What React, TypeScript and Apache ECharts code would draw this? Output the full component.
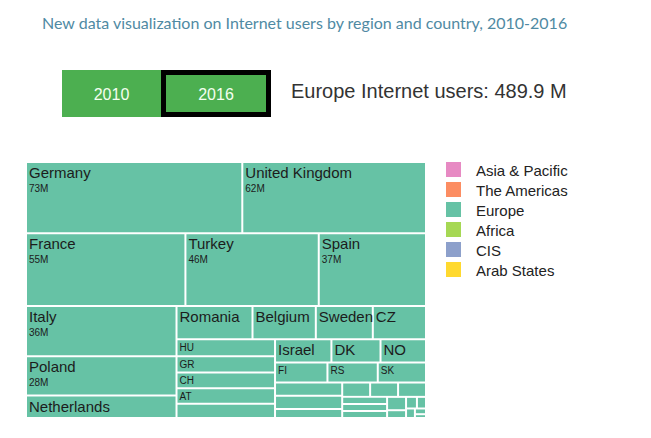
import React, { useEffect, useRef } from 'react';
import * as echarts from 'echarts';

// ---------- data ----------
const chartTitle = 'New data visualization on Internet users by region and country, 2010-2016';
const years = ['2010', '2016'];
const selectedYear = '2016';
const selectedRegion = 'Europe';
const selectedRegionTotal = 489.9; // million users, 2016

const regions = ['Asia & Pacific', 'The Americas', 'Europe', 'Africa', 'CIS', 'Arab States'];
const regionColors = ['#e78ac3', '#fc8d62', '#66c2a5', '#a6d854', '#8da0cb', '#ffd92f'];

const countries = [
  'Germany', 'United Kingdom', 'France', 'Turkey', 'Spain',
  'Italy', 'Poland', 'Netherlands',
  'Romania', 'Belgium', 'Sweden', 'CZ',
  'HU', 'GR', 'CH', 'AT', 'PT',
  'Israel', 'DK', 'NO',
  'FI', 'RS', 'SK',
  'BG', 'IE', 'HR',
  'LT', 'BA', 'AL', 'SI', 'LV', 'MK', 'EE', 'CY', 'LU', 'MT', 'IS', 'ME', 'AD',
];
// Internet users, millions (2016)
const users = [
  73, 62, 55, 46, 37,
  36, 28, 16,
  12, 10, 9, 8.4,
  8, 7.5, 7.4, 7.3, 6.6,
  6.2, 5.4, 5,
  5, 4.8, 4.6,
  4.2, 4.2, 2.9,
  1.9, 1.9, 1.9, 1.5, 1.5, 1.5, 1.2, 0.7, 0.6, 0.5, 0.4, 0.3, 0.2,
];
const unlabeledCountries = ['PT'];

// ---------- treemap arrangement (index ranges into the arrays above) ----------
type Arrange = 'row' | 'column' | 'auto';
type LabelMode = 'full' | 'name' | 'small' | 'none';
type Leaf = { from: number; to: number; arrange: Arrange; label: LabelMode };
type Split = { dir: 'row' | 'column'; parts: Spec[] };
type Spec = Leaf | Split;

const leaf = (from: number, to: number, arrange: Arrange, label: LabelMode): Leaf => ({ from, to, arrange, label });

const arrangement: Spec = {
  dir: 'column',
  parts: [
    leaf(0, 2, 'row', 'full'),
    leaf(2, 5, 'row', 'full'),
    {
      dir: 'row',
      parts: [
        leaf(5, 8, 'column', 'full'),
        {
          dir: 'column',
          parts: [
            leaf(8, 12, 'row', 'name'),
            {
              dir: 'row',
              parts: [
                leaf(12, 17, 'column', 'small'),
                {
                  dir: 'column',
                  parts: [
                    leaf(17, 20, 'row', 'name'),
                    leaf(20, 23, 'row', 'small'),
                    {
                      dir: 'row',
                      parts: [
                        leaf(23, 26, 'column', 'none'),
                        {
                          dir: 'column',
                          parts: [
                            leaf(26, 29, 'row', 'none'),
                            { dir: 'row', parts: [leaf(29, 32, 'column', 'none'), leaf(32, 39, 'auto', 'none')] },
                          ],
                        },
                      ],
                    },
                  ],
                },
              ],
            },
          ],
        },
      ],
    },
  ],
};

const MAP = { x: 26, y: 162, w: 400, h: 256 };
const FONT = 'Arial, "Liberation Sans", sans-serif';
const GREEN = '#4caf50';

function specSum(s: Spec): number {
  if ('parts' in s) return s.parts.reduce((a, p) => a + specSum(p), 0);
  return users.slice(s.from, s.to).reduce((a, v) => a + v, 0);
}

function formatterFor(mode: LabelMode) {
  return (p: any) => {
    if (mode === 'full') return p.value >= 20 ? `{n|${p.name}}\n{v|${Math.round(p.value)}M}` : `{n|${p.name}}`;
    if (mode === 'name') return `{n|${p.name}}`;
    if (mode === 'small') return `{s|${p.name}}`;
    return '';
  };
}

function makeSeries(s: Leaf, x: number, y: number, w: number, h: number) {
  const wide = w >= h;
  let ratio = 0.5 * (1 + Math.sqrt(5));
  if (s.arrange === 'row') ratio = wide ? 1e-6 : 1e6;
  if (s.arrange === 'column') ratio = wide ? 1e6 : 1e-6;
  const color = regionColors[regions.indexOf(selectedRegion)];
  const data = countries.slice(s.from, s.to).map((name, k) => ({
    name,
    value: users[s.from + k],
    ...(unlabeledCountries.includes(name) ? { label: { show: false } } : {}),
  }));
  return {
    type: 'treemap',
    left: x,
    top: y,
    width: w,
    height: h,
    squareRatio: ratio,
    roam: false,
    nodeClick: false,
    silent: true,
    breadcrumb: { show: false },
    upperLabel: { show: false },
    label: {
      show: s.label !== 'none',
      position: 'insideTopLeft',
      padding: [1, 2, 0, 2],
      overflow: 'none',
      formatter: formatterFor(s.label),
      rich: {
        n: { fontFamily: FONT, fontSize: 15, lineHeight: 17, color: '#1c1c1c' },
        v: { fontFamily: FONT, fontSize: 10, lineHeight: 15, color: '#1c1c1c' },
        s: { fontFamily: FONT, fontSize: 10, lineHeight: 12, color: '#1c1c1c' },
      },
    },
    levels: [
      { itemStyle: { borderWidth: 0, gapWidth: 0 } },
      { itemStyle: { color, borderColor: '#ffffff', borderWidth: 1, gapWidth: 0 } },
    ],
    data,
  };
}

function place(s: Spec, x: number, y: number, w: number, h: number, out: any[]) {
  if ('parts' in s) {
    const total = specSum(s);
    let off = 0;
    for (const p of s.parts) {
      const frac = specSum(p) / total;
      if (s.dir === 'column') {
        place(p, x, y + off, w, h * frac, out);
        off += h * frac;
      } else {
        place(p, x + off, y, w * frac, h, out);
        off += w * frac;
      }
    }
  } else {
    out.push(makeSeries(s, x, y, w, h));
  }
}

function buildOption() {
  const series: any[] = [];
  place(arrangement, MAP.x, MAP.y, MAP.w, MAP.h, series);

  const graphics: any[] = [];
  // year buttons
  let bx = 62;
  years.forEach((yr) => {
    const sel = yr === selectedYear;
    const w = sel ? 110 : 99;
    if (sel) {
      graphics.push({ type: 'rect', shape: { x: bx + 2.5, y: 72.5, width: w - 5, height: 42 }, style: { fill: GREEN, stroke: '#000', lineWidth: 5 } });
    } else {
      graphics.push({ type: 'rect', shape: { x: bx, y: 70, width: w, height: 47 }, style: { fill: GREEN } });
    }
    graphics.push({ type: 'text', x: bx + w / 2, y: 94, style: { text: yr, fill: '#f4fff0', font: `16px ${FONT}`, align: 'center', verticalAlign: 'middle' } });
    bx += w;
  });
  // headline
  graphics.push({
    type: 'text', x: 291, y: 91,
    style: { text: `${selectedRegion} Internet users: ${selectedRegionTotal} M`, fill: '#333333', font: `20px ${FONT}`, verticalAlign: 'middle' },
  });
  // legend
  regions.forEach((r, i) => {
    graphics.push({ type: 'rect', shape: { x: 446, y: 162 + i * 20, width: 15, height: 15 }, style: { fill: regionColors[i] } });
    graphics.push({ type: 'text', x: 476, y: 170 + i * 20, style: { text: r, fill: '#222222', font: `15px ${FONT}`, verticalAlign: 'middle' } });
  });

  return {
    animation: false,
    backgroundColor: '#ffffff',
    title: {
      text: chartTitle,
      left: 42,
      top: 14,
      padding: 0,
      textStyle: { fontFamily: 'Lato', fontSize: 16, fontWeight: 'normal', color: '#4f8aa3' },
    },
    graphic: graphics,
    series,
  };
}

export default function App() {
  const ref = useRef<HTMLDivElement>(null);
  useEffect(() => {
    const chart = echarts.init(ref.current!, null, { renderer: 'svg' });
    chart.setOption(buildOption() as any);
    return () => chart.dispose();
  }, []);
  return <div ref={ref} style={{ position: 'fixed', left: 0, top: 0, width: 651, height: 438, background: '#fff' }} />;
}
